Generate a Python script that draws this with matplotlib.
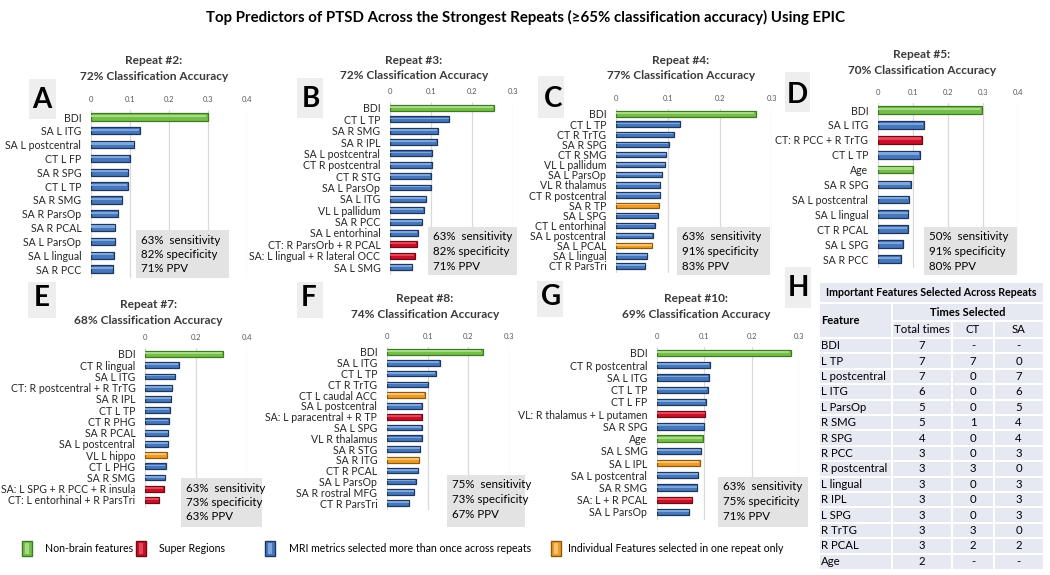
import matplotlib
matplotlib.use('Agg')
import matplotlib.pyplot as plt
from matplotlib.patches import Rectangle

plt.rcParams['font.family'] = ['Lato', 'DejaVu Sans']

W, H = 1050, 575

# ------------------------------------------------------------------ data
title = "Top Predictors of PTSD Across the Strongest Repeats (\u226565% classification accuracy) Using EPIC"

# groups: N = non-brain, S = super region, M = MRI metric >1 repeat, I = individual feature
a_labels = ["BDI", "SA L ITG", "SA L postcentral", "CT L FP", "SA R SPG", "CT L TP", "SA R SMG",
            "SA R ParsOp", "SA R PCAL", "SA L ParsOp", "SA L lingual", "SA R PCC"]
a_values = [0.300, 0.126, 0.111, 0.099, 0.096, 0.095, 0.080, 0.069, 0.062, 0.062, 0.058, 0.056]
a_groups = "NMMMMMMMMMMM"

b_labels = ["BDI", "CT L TP", "SA R SMG", "SA R IPL", "SA L postcentral", "CT R postcentral", "CT R STG",
            "SA L ParsOp", "SA L ITG", "VL L pallidum", "SA R PCC", "SA L entorhinal",
            "CT: R ParsOrb + R PCAL", "SA: L lingual + R lateral OCC", "SA L SMG"]
b_values = [0.254, 0.145, 0.116, 0.114, 0.102, 0.102, 0.100, 0.099, 0.088, 0.082, 0.078, 0.068,
            0.065, 0.060, 0.054]
b_groups = "NMMMMMMMMMMMSSM"

c_labels = ["BDI", "CT L TP", "CT R TrTG", "SA R SPG", "CT R SMG", "VL L pallidum", "SA L ParsOp",
            "VL R thalamus", "CT R postcentral", "SA R TP", "SA L SPG", "CT L entorhinal",
            "SA L postcentral", "SA L PCAL", "SA L lingual", "CT R ParsTri"]
c_values = [0.270, 0.124, 0.111, 0.101, 0.097, 0.095, 0.089, 0.085, 0.085, 0.082, 0.080, 0.075,
            0.071, 0.070, 0.060, 0.056]
c_groups = "NMMMMMMMMIMMMIMM"

d_labels = ["BDI", "SA L ITG", "CT: R PCC + R TrTG", "CT L TP", "Age", "SA R SPG", "SA L postcentral",
            "SA L lingual", "CT R PCAL", "SA L SPG", "SA R PCC"]
d_values = [0.297, 0.131, 0.125, 0.119, 0.100, 0.094, 0.088, 0.086, 0.085, 0.071, 0.065]
d_groups = "NMSMNMMMMMM"

e_labels = ["BDI", "CT R lingual", "SA L ITG", "CT: R postcentral + R TrTG", "SA R IPL", "CT L TP",
            "CT R PHG", "SA R PCAL", "SA L postcentral", "VL L hippo", "CT L PHG", "SA R SMG",
            "SA: L SPG + R PCC + R insula", "CT: L entorhinal + R ParsTri"]
e_values = [0.305, 0.133, 0.118, 0.106, 0.103, 0.097, 0.093, 0.092, 0.090, 0.085, 0.081, 0.078,
            0.073, 0.056]
e_groups = "NMMMMMMMMIMMSS"

f_labels = ["BDI", "SA L ITG", "CT L TP", "CT R TrTG", "CT L caudal ACC", "SA L postcentral",
            "SA: L paracentral + R TP", "SA L SPG", "VL R thalamus", "SA R STG", "SA R ITG",
            "CT R PCAL", "SA L ParsOp", "SA R rostral MFG", "CT R ParsTri"]
f_values = [0.235, 0.131, 0.120, 0.102, 0.093, 0.086, 0.085, 0.085, 0.085, 0.082, 0.079, 0.077,
            0.071, 0.067, 0.054]
f_groups = "NMMMIMSMMMIMMMM"

g_labels = ["BDI", "CT R postcentral", "SA L ITG", "CT L TP", "CT L FP", "VL: R thalamus + L putamen",
            "SA R SPG", "Age", "SA L SMG", "SA L IPL", "SA L postcentral", "SA R SMG",
            "SA: L + R PCAL", "SA L ParsOp"]
g_values = [0.283, 0.112, 0.109, 0.107, 0.103, 0.102, 0.100, 0.097, 0.094, 0.091, 0.087, 0.085,
            0.074, 0.068]
g_groups = "NMMMMSMNMIMMSM"

panel_titles = [("Repeat #2:", "72% Classification Accuracy"),
                ("Repeat #3:", "72% Classification Accuracy"),
                ("Repeat #4:", "77% Classification Accuracy"),
                ("Repeat #5:", "70% Classification Accuracy"),
                ("Repeat #7:", "68% Classification Accuracy"),
                ("Repeat #8:", "74% Classification Accuracy"),
                ("Repeat #10:", "69% Classification Accuracy")]
panel_stats = [(63, 82, 71), (63, 82, 71), (63, 91, 83), (50, 91, 80), (63, 73, 63), (75, 73, 67), (63, 75, 71)]
panel_ticks = [[0, 0.1, 0.2, 0.3, 0.4], [0, 0.1, 0.2, 0.3], [0, 0.1, 0.2, 0.3], [0, 0.1, 0.2, 0.3, 0.4],
               [0, 0.2, 0.4], [0, 0.1, 0.2, 0.3], [0, 0.1, 0.2, 0.3]]
panel_letters = ["A", "B", "C", "D", "E", "F", "G"]

legend_labels = ["Non-brain features", "Super Regions", "MRI metrics selected more than once across repeats",
                 "Individual Features selected in one repeat only"]
legend_groups = "NSMI"

table_title = "Important Features Selected Across Repeats"
table_features = ["BDI", "L TP", "L postcentral", "L ITG", "L ParsOp", "R SMG", "R SPG", "R PCC",
                  "R postcentral", "L lingual", "R IPL", "L SPG", "R TrTG", "R PCAL", "Age"]
table_total = [7, 7, 7, 6, 5, 5, 4, 3, 3, 3, 3, 3, 3, 3, 2]
table_ct = ["-", "7", "0", "0", "0", "1", "0", "0", "3", "0", "0", "0", "3", "2", "-"]
table_sa = ["-", "0", "7", "6", "5", "4", "4", "3", "0", "3", "3", "3", "0", "2", "-"]

# ------------------------------------------------------------------ style
FACE = {"N": "#76BE4A", "S": "#C8102A", "M": "#4677BA", "I": "#EE9B28"}
LIGHT = {"N": "#A6DA86", "S": "#E4475A", "M": "#7FA6DA", "I": "#F8C26E"}
EDGE = {"N": "#3D7A22", "S": "#6E0A14", "M": "#1C365E", "I": "#8A5A10"}
TITLE_COL = "#3A3A3A"

fig = plt.figure(figsize=(W / 100, H / 100), dpi=100)


def px_axes(x0, y0, x1, y1, **kw):
    return fig.add_axes([x0 / W, 1 - y1 / H, (x1 - x0) / W, (y1 - y0) / H], **kw)


# layout of each panel (pixels): axis x0, x1, first bar y, last bar y, title centre x, first title line y,
# stats box (x0, y0, x1, y1), letter centre, letter box (x0, y0, x1, y1)
layouts = [
    dict(x0=91, x1=247, yf=117, yl=269, tx=154, ty=61, box=(136, 230, 229, 278),
         let=(42, 100), lbox=(29, 79, 56, 119)),
    dict(x0=390, x1=513, yf=108, yl=267, tx=414, ty=60, box=(428, 227, 517, 275),
         let=(311, 99), lbox=(297, 78, 323, 118)),
    dict(x0=616, x1=772, yf=114, yl=266, tx=681, ty=60, box=(677, 227, 770, 275),
         let=(553, 99), lbox=(538, 76, 564, 118)),
    dict(x0=878, x1=1018, yf=110, yl=259, tx=922, ty=55, box=(924, 227, 1017, 275),
         let=(797, 95), lbox=(785, 72, 810, 112)),
    dict(x0=145, x1=247, yf=354, yl=500, tx=148, ty=305, box=(181, 478, 262, 527),
         let=(42, 298), lbox=(28, 282, 56, 318)),
    dict(x0=387, x1=509, yf=352, yl=503, tx=425, ty=299, box=(447, 475, 525, 527),
         let=(309, 298), lbox=(297, 282, 323, 318)),
    dict(x0=657, x1=799, yf=353, yl=512, tx=696, ty=299, box=(718, 477, 808, 527),
         let=(551, 297), lbox=(537, 281, 563, 317)),
]

all_labels = [a_labels, b_labels, c_labels, d_labels, e_labels, f_labels, g_labels]
all_values = [a_values, b_values, c_values, d_values, e_values, f_values, g_values]
all_groups = [a_groups, b_groups, c_groups, d_groups, e_groups, f_groups, g_groups]

for labels, values, groups, ticks, L in zip(all_labels, all_values, all_groups, panel_ticks, layouts):
    n = len(labels)
    step = (L["yl"] - L["yf"]) / (n - 1)
    ax = px_axes(L["x0"], L["yf"] - step / 2, L["x1"], L["yl"] + step / 2 + 2)
    ypos = list(range(n))
    ax.barh(ypos, values, height=0.52,
            color=[FACE[g] for g in groups], edgecolor=[EDGE[g] for g in groups], linewidth=0.9, zorder=3)
    # soft highlight to mimic the bevelled bars
    ax.barh([y - 0.08 for y in ypos], [v * 0.985 for v in values], height=0.16,
            color=[LIGHT[g] for g in groups], linewidth=0, zorder=4)
    ax.set_ylim(n - 0.5 + 2 / step, -0.5)
    ax.set_xlim(0, ticks[-1])
    ax.set_xticks(ticks)
    ax.set_xticklabels(["0" if t == 0 else f"{t:g}" for t in ticks], fontsize=5.5, color="#595959")
    ax.xaxis.tick_top()
    ax.tick_params(axis="x", length=0, pad=5)
    ax.set_yticks(ypos)
    ax.set_yticklabels(labels, fontsize=7.6, color="#262626")
    ax.tick_params(axis="y", length=0, pad=7)
    ax.grid(axis="x", color="#D9D9D9", linewidth=0.9, zorder=0)
    for s in ax.spines.values():
        s.set_visible(False)
    ax.set_facecolor("none")

# overlay in pixel coordinates for texts, boxes, legend and table
ov = fig.add_axes([0, 0, 1, 1], zorder=10)
ov.set_xlim(0, W)
ov.set_ylim(H, 0)
ov.axis("off")
ov.patch.set_alpha(0)

ov.text(525, 17, title, ha="center", va="center", fontsize=10.8, fontweight="bold", color="#000000")

for (t1, t2), stats, letter, L in zip(panel_titles, panel_stats, panel_letters, layouts):
    ov.text(L["tx"], L["ty"], t1, ha="center", va="center", fontsize=8.6, fontweight="bold", color=TITLE_COL)
    ov.text(L["tx"], L["ty"] + 15.5, t2, ha="center", va="center", fontsize=8.6, fontweight="bold",
            color=TITLE_COL)
    bx0, by0, bx1, by1 = L["box"]
    ov.add_patch(Rectangle((bx0, by0), bx1 - bx0, by1 - by0, facecolor="#E3E3E3", edgecolor="none"))
    lines = [f"{stats[0]}%  sensitivity", f"{stats[1]}% specificity", f"{stats[2]}% PPV"]
    for i, s in enumerate(lines):
        ov.text(bx0 + 5, by0 + 10 + i * 14.5, s, ha="left", va="center", fontsize=8.3, color="#000000")
    lx, ly = L["let"]
    lb = L["lbox"]
    ov.add_patch(Rectangle((lb[0], lb[1]), lb[2] - lb[0], lb[3] - lb[1], facecolor="#EEEEEE", edgecolor="none"))
    ov.text(lx, ly, letter, ha="center", va="center", fontsize=20, fontweight="bold", color="#000000")

# H letter
ov.add_patch(Rectangle((785, 267), 26, 41, facecolor="#EEEEEE", edgecolor="none"))
ov.text(798, 288, "H", ha="center", va="center", fontsize=20, fontweight="bold", color="#000000")

# legend
leg_x = [22, 136, 265, 551]
leg_tx = [45, 159, 289, 568]
for g, lab, x, tx in zip(legend_groups, legend_labels, leg_x, leg_tx):
    ov.add_patch(Rectangle((x, 541), 10, 15, facecolor=FACE[g], edgecolor=EDGE[g], linewidth=1))
    ov.add_patch(Rectangle((x + 3, 543), 4, 11, facecolor=LIGHT[g], edgecolor="none"))
    ov.text(tx, 549, lab, ha="left", va="center", fontsize=7.6, color="#000000")

# table
tx0, tx1 = 820, 1043
ty0 = 283
c1, c2, c3 = 892, 952, 994
row_h = 15.4
hdr1, hdr2, hdr3 = 303, 321, 338
n_rows = len(table_features)
ty1 = hdr3 + n_rows * row_h
ov.add_patch(Rectangle((tx0, ty0), tx1 - tx0, ty1 - ty0, facecolor="#E6E8F2", edgecolor="none"))
lw = 1.4
ov.plot([tx0, tx1], [hdr1, hdr1], color="white", lw=lw)
ov.plot([c1, tx1], [hdr2, hdr2], color="white", lw=lw)
for i in range(n_rows):
    y = hdr3 + i * row_h
    ov.plot([tx0, tx1], [y, y], color="white", lw=lw)
ov.plot([c1, c1], [hdr1, ty1], color="white", lw=lw)
ov.plot([c2, c2], [hdr2, ty1], color="white", lw=lw)
ov.plot([c3, c3], [hdr2, ty1], color="white", lw=lw)

ov.text((tx0 + tx1) / 2, (ty0 + hdr1) / 2, table_title, ha="center", va="center", fontsize=7.7,
        fontweight="bold", color="#000000")
ov.text((c1 + tx1) / 2, (hdr1 + hdr2) / 2, "Times Selected", ha="center", va="center", fontsize=8.0,
        fontweight="bold", color="#000000")
ov.text(tx0 + 1, (hdr1 + hdr3) / 2, "Feature", ha="left", va="center", fontsize=8.0,
        fontweight="bold", color="#000000")
for x, s in zip([(c1 + c2) / 2, (c2 + c3) / 2, (c3 + tx1) / 2], ["Total times", "CT", "SA"]):
    ov.text(x, (hdr2 + hdr3) / 2, s, ha="center", va="center", fontsize=8.2, color="#000000")
for i, (f, t, c, s) in enumerate(zip(table_features, table_total, table_ct, table_sa)):
    y = hdr3 + (i + 0.5) * row_h
    ov.text(tx0 + 1, y, f, ha="left", va="center", fontsize=8.2, color="#000000")
    ov.text((c1 + c2) / 2, y, str(t), ha="center", va="center", fontsize=8.2, color="#000000")
    ov.text((c2 + c3) / 2, y, c, ha="center", va="center", fontsize=8.2, color="#000000")
    ov.text((c3 + tx1) / 2, y, s, ha="center", va="center", fontsize=8.2, color="#000000")

fig.savefig("out.png", dpi=100)
